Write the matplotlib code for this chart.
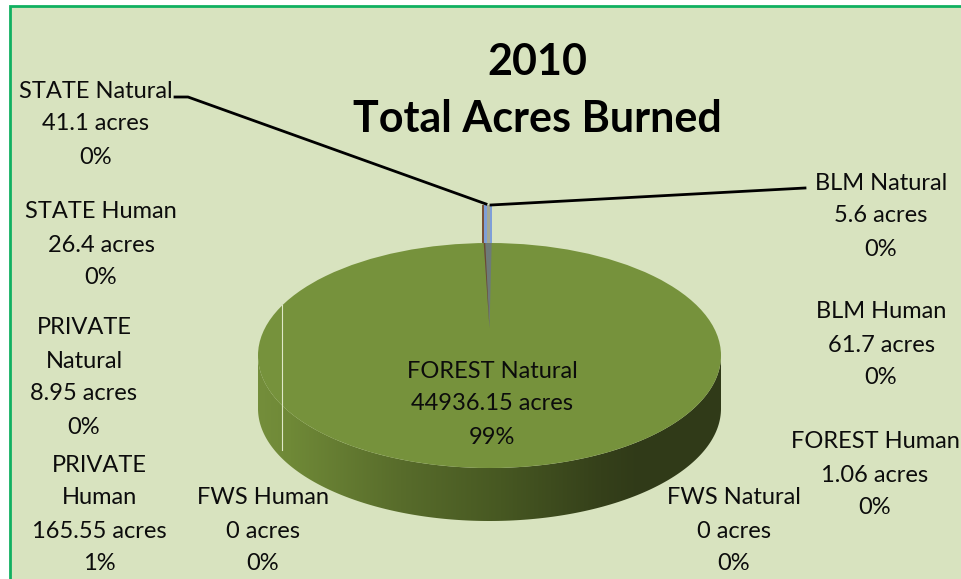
import numpy as np
import matplotlib.pyplot as plt
from matplotlib.patches import Ellipse, Polygon, Rectangle

plt.rcParams['font.family'] = ['Lato', 'DejaVu Sans']

# values, clockwise from the top of the pie
slices = ['BLM Natural', 'BLM Human', 'FOREST Human', 'FOREST Natural', 'FWS Natural',
          'FWS Human', 'PRIVATE Human', 'PRIVATE Natural', 'STATE Human', 'STATE Natural']
acres = [5.6, 61.7, 1.06, 44936.15, 0, 0, 165.55, 8.95, 26.4, 41.1]
acre_text = ['5.6', '61.7', '1.06', '44936.15', '0', '0', '165.55', '8.95', '26.4', '41.1']
percent = ['0%', '0%', '0%', '99%', '0%', '0%', '1%', '0%', '0%', '0%']
sliver_colors = ['#8f9f9a', '#7f9fd8', '#7f9fd8', None, None, None, '#7f9fd8', '#8fa6cf', '#a3a794', '#a3a794']

# label centres in pixels, name may wrap
label_pos = {
    'BLM Natural': (881, 183), 'BLM Human': (881, 312), 'FOREST Human': (875, 442),
    'FOREST Natural': (492, 371), 'FWS Natural': (734, 498), 'FWS Human': (263, 498),
    'PRIVATE Human': (99, 465), 'PRIVATE Natural': (84, 328), 'STATE Human': (101, 212),
    'STATE Natural': (96, 91),
}
wrapped = {'PRIVATE Human': 'PRIVATE\nHuman', 'PRIVATE Natural': 'PRIVATE\nNatural'}

W, H = 961, 579
cx, cy, a, b, depth = 489.5, 355.5, 231.5, 112.5, 53

fig = plt.figure(figsize=(W / 100, H / 100), dpi=100, facecolor='white')
ax = fig.add_axes([0, 0, 1, 1])
ax.set_xlim(0, W)
ax.set_ylim(H, 0)
ax.axis('off')

# chart area
ax.add_patch(Rectangle((9.5, 5.5), 980, 590, fc='#d8e3bf', ec='#10b060', lw=2, zorder=0))

# side of the disc with a left to right shading
t = np.linspace(0, np.pi, 200)
xs = cx - a * np.cos(t)
ys = cy + b * np.sin(t)
side = np.vstack([np.c_[xs, ys], np.c_[xs[::-1], ys[::-1] + depth]])
stops_x = [258, 290, 400, 500, 600, 640, 721]
stops_r = [0x74, 0x6f, 0x58, 0x47, 0x35, 0x30, 0x30]
stops_g = [0x8e, 0x89, 0x6c, 0x58, 0x40, 0x3a, 0x3a]
stops_b = [0x3b, 0x37, 0x2b, 0x22, 0x1a, 0x18, 0x18]
gx = np.arange(258, 722)
grad = np.dstack([np.interp(gx, stops_x, stops_r), np.interp(gx, stops_x, stops_g),
                  np.interp(gx, stops_x, stops_b)]) / 255
im = ax.imshow(grad, extent=(258, 722, cy + b + depth, cy - 5), aspect='auto', zorder=1)
side_patch = Polygon(side, closed=True, fc='none', ec='none', transform=ax.transData)
ax.add_patch(side_patch)
im.set_clip_path(side_patch)
ax.set_xlim(0, W)
ax.set_ylim(H, 0)

# top face
ax.add_patch(Ellipse((cx, cy), 2 * a, 2 * b, fc='#76923c', ec='none', zorder=2))

# thin light line on the left of the disc
ax.plot([282, 282], [305, 450], color='#dfe8c8', lw=0.8, zorder=3)

# small slices around the top, pulled out of the disc
total = sum(acres)
fracs = np.array(acres) / total
big = slices.index('FOREST Natural')
tip_y, rim_y, top_y = 328, 243, 205
ang = np.cumsum(fracs[:big]) * 2 * np.pi
starts = np.r_[0, ang[:-1]]
for s, e, c in zip(starts, ang, sliver_colors[:big]):
    x1, x2 = cx + a * np.sin(s), cx + a * np.sin(e)
    ax.add_patch(Rectangle((x1, top_y), x2 - x1, rim_y - top_y, fc=c, ec='none', zorder=4))
right_edge = x2
ang = np.cumsum(fracs[big + 1:][::-1]) * 2 * np.pi
starts = np.r_[0, ang[:-1]]
for s, e, c in zip(starts, ang, sliver_colors[big + 1:][::-1]):
    x1, x2 = cx - a * np.sin(s), cx - a * np.sin(e)
    ax.add_patch(Rectangle((x2, top_y), x1 - x2, rim_y - top_y, fc=c, ec='none', zorder=4))
left_edge = x2

# brown wall on the left of the slices, dark narrowing part on the top face
ax.add_patch(Rectangle((left_edge, top_y), 2, rim_y - top_y, fc='#7a5238', ec='none', zorder=5))
ax.add_patch(Polygon([(left_edge + 2, rim_y), (right_edge, rim_y), (cx, tip_y)],
                     fc='#6d7a78', ec='none', zorder=4))
ax.add_patch(Polygon([(left_edge + 2, rim_y), (left_edge + 3.5, rim_y), (cx, tip_y)],
                     fc='#6a4a30', ec='none', zorder=5))

# leader lines
ax.plot([175, 188, 486], [97, 97, 204], color='black', lw=2, zorder=6, solid_joinstyle='round')
ax.plot([805, 491], [188, 205], color='black', lw=2, zorder=6)

# title
ax.text(537, 62, '2010', fontsize=31, fontweight='bold', ha='center', va='center', color='black')
ax.text(537, 119, 'Total Acres Burned', fontsize=31, fontweight='bold', ha='center', va='center', color='black')

# data labels, first line centre given
for name, val, pct in zip(slices, acre_text, percent):
    lines = wrapped.get(name, name).split('\n') + [f'{val} acres', pct]
    x, y = label_pos[name]
    for i, line in enumerate(lines):
        ax.text(x, y + i * 33, line, fontsize=17, ha='center', va='center', color='#0c0c0c', zorder=7)

fig.savefig('out.png', dpi=100)
